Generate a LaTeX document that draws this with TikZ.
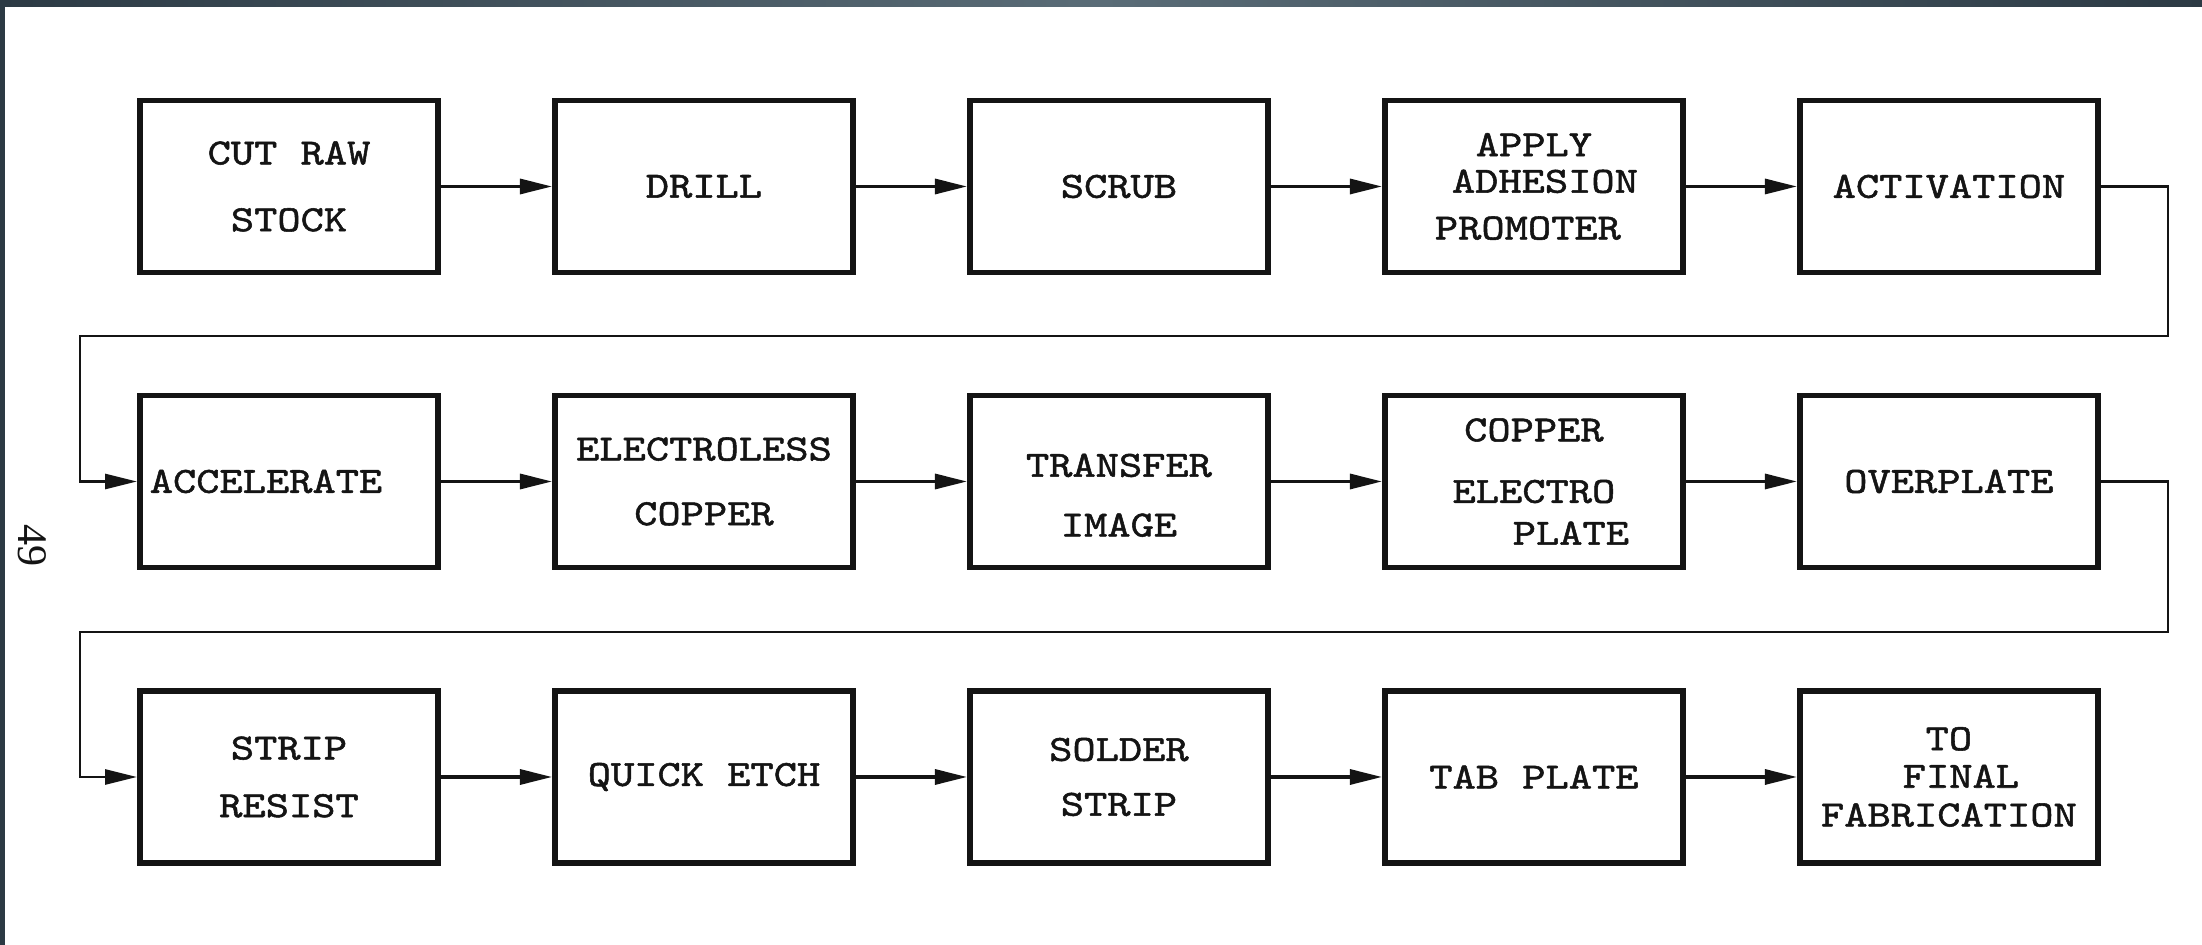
\documentclass[tikz,border=0pt]{standalone}
\usepackage{fontspec}
\newfontfamily\typewriter[FakeBold=1.4,FakeStretch=1.2]{Latin Modern Mono}
\newfontfamily\pagenofont{Liberation Serif}
\usetikzlibrary{arrows.meta,positioning}

\definecolor{inkblack}{HTML}{141414}
\definecolor{frameedge}{HTML}{2C3A44}
\definecolor{framemid}{HTML}{5A6C77}

\tikzset{
  stage/.style={
    draw=inkblack,
    line width=1.7pt,
    minimum width=2.98cm,
    minimum height=1.72cm,
    inner sep=0pt,
    align=center,
    text=inkblack,
    font=\typewriter\fontsize{10.5}{13}\selectfont
  },
  flow/.style={draw=inkblack, line width=0.9pt, -{Triangle[length=3.2mm,width=1.5mm]}},
  loopback/.style={draw=inkblack, line width=0.8pt, -{Triangle[length=3.2mm,width=1.5mm]}}
}

\begin{document}
\begin{tikzpicture}
      % Page and scanner frame
      \useasboundingbox (0,0) rectangle (22.02,-9.45);
      \fill[white] (0,0) rectangle (22.02,-9.45);
      \shade[left color=frameedge, right color=frameedge, middle color=framemid]
        (0,0) rectangle (22.02,-0.07);
      \fill[frameedge] (0,0) rectangle (0.05,-9.45);

      % Page number, turned with the page
      \node[font=\pagenofont\fontsize{12}{14}\selectfont, text=inkblack, rotate=-90] (pageno) at (0.32,-5.46) {49};

      % First row
      \node[stage] (cut) at (2.89,-1.865) {CUT RAW\\[6pt]STOCK};
      \node[stage, right=1.11cm of cut] (drill) {DRILL};
      \node[stage, right=1.11cm of drill] (scrub) {SCRUB};
      \node[stage, right=1.11cm of scrub] (adhesion) {APPLY\\[-2.6pt]\hspace*{0.22cm}ADHESION\\[0.3pt]PROMOTER\hspace*{0.12cm}};
      \node[stage, right=1.11cm of adhesion] (activate) {ACTIVATION};

      % Second row
      \node[stage] (accel) at (2.89,-4.815) {ACCELERATE\hspace*{0.46cm}};
      \node[stage, right=1.11cm of accel] (eless) {ELECTROLESS\\[5.4pt]COPPER};
      \node[stage, right=1.11cm of eless] (transfer) {\mbox{}\\[1.4pt]TRANSFER\\[4pt]IMAGE};
      \node[stage, right=1.11cm of transfer] (eplate) {COPPER\\[4.5pt]ELECTRO\hspace*{0.54cm}\\[-1.1pt]\hspace*{0.74cm}PLATE};
      \node[stage, right=1.11cm of eplate] (overplate) {OVERPLATE};

      % Third row
      \node[stage] (stripres) at (2.89,-7.77) {STRIP\\[3.4pt]RESIST};
      \node[stage, right=1.11cm of stripres] (etch) {QUICK ETCH};
      \node[stage, right=1.11cm of etch] (solder) {SOLDER\\[2.6pt]STRIP};
      \node[stage, right=1.11cm of solder] (tab) {TAB PLATE};
      \node[stage, right=1.11cm of tab] (final) {TO\\[-2.3pt]\hspace*{0.24cm}FINAL\\[-2pt]FABRICATION};

      % Arrows along each row
      \draw[flow] (cut) -- (drill);
      \draw[flow] (drill) -- (scrub);
      \draw[flow] (scrub) -- (adhesion);
      \draw[flow] (adhesion) -- (activate);
      \draw[flow] (accel) -- (eless);
      \draw[flow] (eless) -- (transfer);
      \draw[flow] (transfer) -- (eplate);
      \draw[flow] (eplate) -- (overplate);
      \draw[flow] (stripres) -- (etch);
      \draw[flow] (etch) -- (solder);
      \draw[flow] (solder) -- (tab);
      \draw[flow] (tab) -- (final);

      % Return lines to the start of the next row
      \coordinate (turnA) at (21.68,-3.36);
      \coordinate (turnB) at (0.80,-3.36);
      \coordinate (turnC) at (21.68,-6.32);
      \coordinate (turnD) at (0.80,-6.32);
      \draw[loopback] (activate.east) -| (turnA) -- (turnB) |- (accel.west);
      \draw[loopback] (overplate.east) -| (turnC) -- (turnD) |- (stripres.west);

    \end{tikzpicture}
\end{document}
